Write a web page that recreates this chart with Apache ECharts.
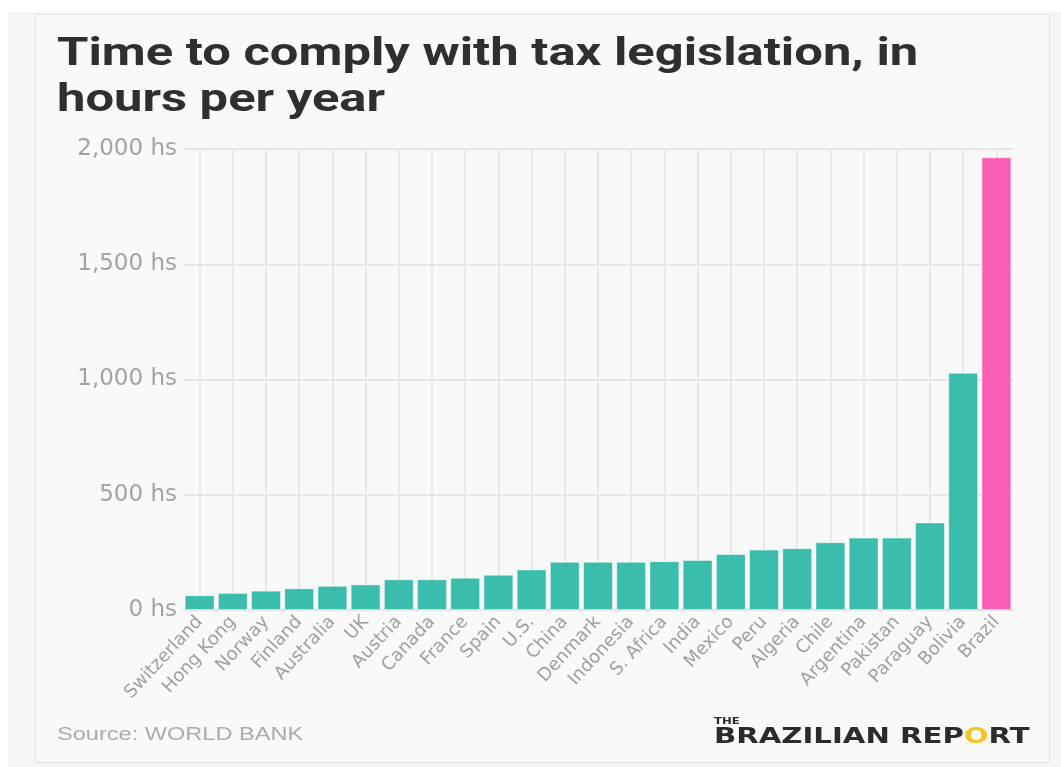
<!DOCTYPE html>
<html>
<head>
<meta charset="utf-8">
<script src="https://cdn.jsdelivr.net/npm/echarts@6/dist/echarts.min.js"></script>
<style>
html,body{margin:0;padding:0;background:#ffffff;}
#chart{width:1061px;height:767px;}
</style>
</head>
<body>
<div id="chart"></div>
<script>
const categories = ['Switzerland','Hong Kong','Norway','Finland','Australia','UK','Austria','Canada','France','Spain','U.S.','China','Denmark','Indonesia','S. Africa','India','Mexico','Peru','Algeria','Chile','Argentina','Pakistan','Paraguay','Bolivia','Brazil'];
const hours = [64,74,84,94,105,111,133,133,140,153,176,209,209,209,212,217,243,262,268,294,314,314,380,1029,1964];
const highlight = 'Brazil';
const yTicks = [0,500,1000,1500,2000];
const titleText = 'Time to comply with tax legislation, in\nhours per year';
const sourceText = 'Source: WORLD BANK';

const teal = '#3abdac';
const pink = '#fa5eb4';

const chart = echarts.init(document.getElementById('chart'));
const option = {
  backgroundColor: '#ffffff',
  animation: false,
  graphic: [
    { type:'rect', z:-10, shape:{x:8,y:12,width:1053,height:755}, style:{fill:'#f6f6f6'} },
    { type:'rect', z:-9, shape:{x:35.5,y:14.5,width:1014,height:748}, style:{fill:'#f9f9f9', stroke:'#e3e3e3', lineWidth:1} },
    { type:'text', x:57, y:32, scaleX:1.3, style:{text:titleText, fill:'#2f2f2f', fontSize:39, fontWeight:'bold', fontFamily:'Roboto', lineHeight:46} },
    { type:'text', x:57, y:725, scaleX:1.24, style:{text:sourceText, fill:'#ababab', fontSize:19, fontFamily:'Liberation Sans'} },
    { type:'text', x:714, y:717, scaleX:1.3, style:{text:'THE', fill:'#2b2b2b', fontSize:9, fontWeight:'bold', fontFamily:'DejaVu Sans'} },
    { type:'text', x:714, y:727, scaleX:1.39, style:{
        text:'{a|BRAZILIAN REP}{o|O}{a|RT}',
        rich:{
          a:{fill:'#2b2b2b', fontSize:21, fontWeight:'bold', fontFamily:'DejaVu Sans'},
          o:{fill:'#f3c623', fontSize:21, fontWeight:'bold', fontFamily:'DejaVu Sans'}
        }
      } }
  ],
  grid: { left:183, right:48, top:149, bottom:157, containLabel:false },
  xAxis: {
    type:'category',
    data: categories,
    boundaryGap: true,
    axisLine: { show:true, lineStyle:{ color:'#e4e4e4', width:2 } },
    axisTick: { show:true, alignWithLabel:true, inside:true, length:461, lineStyle:{ color:'#e8e8e8', width:2 } },
    axisLabel: { interval:0, rotate:47, color:'#9f9f9f', fontSize:18, fontFamily:'DejaVu Sans', margin:9 },
    splitLine: { show:false }
  },
  yAxis: {
    type:'value',
    min: yTicks[0], max: yTicks[yTicks.length-1], interval: yTicks[1]-yTicks[0],
    axisLine: { show:false },
    axisTick: { show:false },
    axisLabel: { color:'#a3a3a3', fontSize:23, fontFamily:'DejaVu Sans', margin:6,
      formatter: v => v.toLocaleString('en-US') + ' hs' },
    splitLine: { show:true, lineStyle:{ color:'#e6e6e6', width:2 } }
  },
  series: [{
    type:'bar',
    data: hours.map((v,i) => ({ value:v, itemStyle:{ color: categories[i]===highlight ? pink : teal } })),
    barCategoryGap: '10%',
    itemStyle: { borderColor:'rgba(255,255,255,0.45)', borderWidth:1 }
  }]
};
chart.setOption(option);
</script>
</body>
</html>
